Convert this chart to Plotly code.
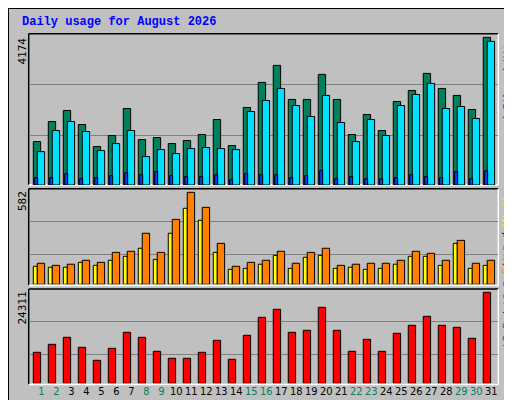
import plotly.graph_objects as go

days = list(range(1, 32))
weekend = [1, 2, 8, 9, 15, 16, 22, 23, 29, 30]
hits = [1228,1794,2106,1709,1086,1398,2163,1284,1341,1171,1256,1426,1851,1114,2191,2899,3381,2418,2418,3126,2418,1426,1993,1539,2361,2672,3154,2729,2531,2134,4174]
files = [944,1539,1794,1511,973,1171,1539,803,1001,888,1029,1058,1029,1001,2077,2389,2729,2247,1936,2531,1766,1228,1851,1398,2247,2559,2871,2162,2219,1879,4060]
pages = [208,208,321,179,208,264,349,293,378,264,236,236,293,151,321,293,293,208,264,406,179,236,179,179,208,293,236,208,378,179,406]
visits = [114,108,108,139,120,152,177,228,158,323,481,405,202,95,101,127,183,101,171,183,101,108,95,101,127,177,177,120,259,101,120]
sites = [133,120,127,152,139,202,209,323,202,411,582,487,259,114,139,152,209,133,202,228,120,127,133,133,152,209,196,152,278,133,152]
kbf = [8282,10419,12289,9617,6144,9350,13625,12289,8549,6679,6679,8282,11488,6412,12823,17632,19769,13625,14159,20304,14159,8549,11755,8549,13358,15495,17899,15495,14961,12022,24311]
max_top, max_mid, max_bot = 4174, 582, 24311

BLACK = "#000000"
fig = go.Figure()
def bar(y, color, axis, offset, width):
    fig.add_trace(go.Bar(x=days, y=y, yaxis=axis, marker=dict(color=color, line=dict(color=BLACK, width=1)),
                         offset=offset, width=width, showlegend=False, hoverinfo="skip"))
bar(hits, "#00805c", "y", -0.533, 0.49)
bar(files, "#00e0ff", "y", -0.267, 0.49)
bar(pages, "#0040ff", "y", -0.44, 0.2)
bar(visits, "#ffff00", "y2", -0.533, 0.267)
bar(sites, "#ff8000", "y2", -0.267, 0.49)
bar(kbf, "#ff0000", "y3", -0.533, 0.49)

ticktext = [f"<span style='color:{'#00805c' if d in weekend else '#000000'}'>{d}</span>" for d in days]
grid = dict(showgrid=True, gridcolor="#808080", gridwidth=1, showticklabels=False, ticks="", zeroline=False, fixedrange=True)
fig.update_layout(
    width=512, height=400, margin=dict(l=0, r=0, t=0, b=0),
    paper_bgcolor="#c0c0c0", plot_bgcolor="rgba(0,0,0,0)", barmode="overlay",
    font=dict(family="DejaVu Sans Mono", size=11, color=BLACK),
    xaxis=dict(domain=[0.0404, 0.9576], range=[0.16, 31.47], anchor="y3", tickmode="array",
               tickvals=days, ticktext=ticktext, ticks="", showgrid=False, zeroline=False,
               tickfont=dict(family="DejaVu Sans Condensed", size=11)),
    yaxis=dict(domain=[0.5575, 0.93575], range=[0, 4276], tickvals=[1413, 2854], **grid),
    yaxis2=dict(domain=[0.30925, 0.54825], range=[0, 605], tickvals=[190, 398], anchor="x", **grid),
    yaxis3=dict(domain=[0.06175, 0.2975], range=[0, 25192], tickvals=[7747, 16564], anchor="x", **grid),
)

shapes = []
shapes.append(dict(type="rect", x0=0, x1=1, y0=0, y1=1, line=dict(color=BLACK, width=2)))
shapes.append(dict(type="rect", x0=506/512, x1=511/512, y0=1/400, y1=396/400, fillcolor="#808080", line_width=0))
shapes.append(dict(type="rect", x0=4/512, x1=511/512, y0=1/400, y1=5/400, fillcolor="#808080", line_width=0))
for (top, bot) in [(25.7, 177), (180.7, 277.5), (281, 376.5)]:
    x0, x1 = 20.7/512, 490.3/512
    y0, y1 = 1-bot/400, 1-top/400
    shapes.append(dict(type="line", x0=x0, x1=x1, y0=y1, y1=y1, line=dict(color=BLACK, width=1.5)))
    shapes.append(dict(type="line", x0=x0, x1=x0, y0=y0, y1=y1, line=dict(color=BLACK, width=1.5)))
    shapes.append(dict(type="line", x0=x1, x1=x1, y0=y0, y1=y1, line=dict(color="#ffffff", width=1.5)))
    shapes.append(dict(type="line", x0=x0, x1=x1, y0=y0, y1=y0, line=dict(color="#ffffff", width=1.5)))
for s in shapes:
    s.update(xref="paper", yref="paper", layer="below")
fig.update_layout(shapes=shapes)

LEG = dict(family="DejaVu Sans Mono", size=10, color=BLACK)
ann = [
    dict(text="<b>Daily usage for August 2026</b>", x=12/512, y=1-5/400, xanchor="left", yanchor="top",
         font=dict(family="Liberation Mono", size=12, color="#0000ff")),
    dict(text=str(max_top), x=14/512, y=1-28/400, textangle=-90, xanchor="center", yanchor="top"),
    dict(text=str(max_mid), x=14/512, y=1-181/400, textangle=-90, xanchor="center", yanchor="top"),
    dict(text=str(max_bot), x=14/512, y=1-282/400, textangle=-90, xanchor="center", yanchor="top"),
    dict(text="<span style='color:#00e0ff'>Pages</span> / <span style='color:#0040ff'>Files</span> / <span style='color:#00805c'>Hits</span>",
         x=499/512, y=1-28/400, textangle=-90, xanchor="center", yanchor="top", font=LEG),
    dict(text="<span style='color:#ff8000'>Sites</span> / <span style='color:#ffff00'>Visits</span>",
         x=499/512, y=1-180/400, textangle=-90, xanchor="center", yanchor="top", font=LEG),
    dict(text="<span style='color:#ff0000'>kB F</span> / <span style='color:#0080ff'>kB In</span> / <span style='color:#00c000'>kB Out</span>",
         x=499/512, y=1-276/400, textangle=-90, xanchor="center", yanchor="middle", font=LEG),
]
for a in ann:
    a.setdefault("font", dict(family="DejaVu Sans Mono", size=11, color=BLACK))
    a.update(xref="paper", yref="paper", showarrow=False)
fig.update_layout(annotations=ann)
fig.write_html("out.html")
